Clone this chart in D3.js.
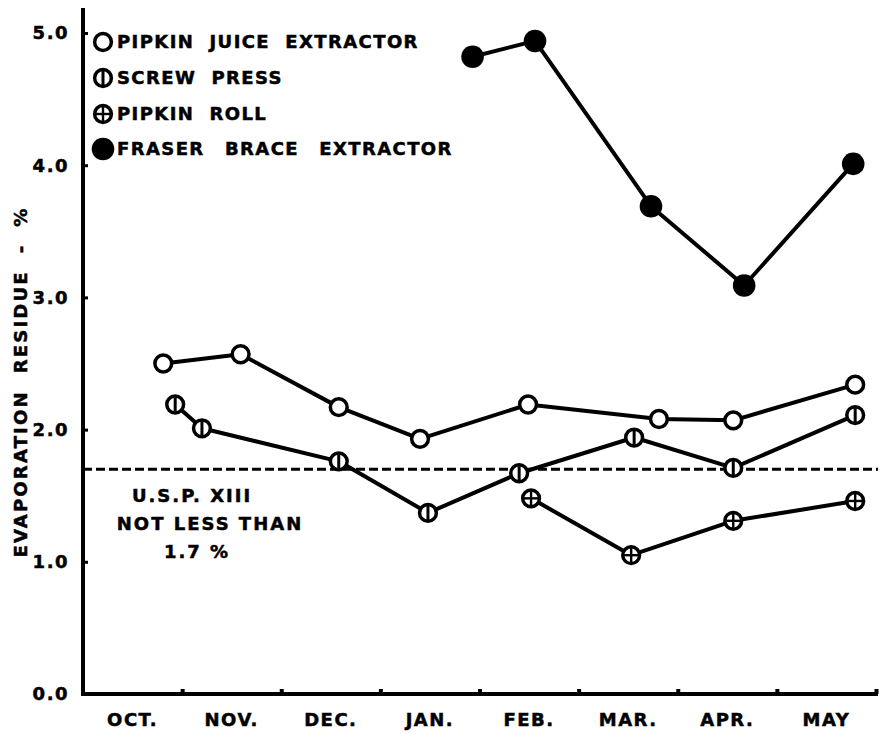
<!DOCTYPE html>
<html>
<head>
<meta charset="utf-8">
<script src="https://cdn.jsdelivr.net/npm/d3@7"></script>
<style>
  html, body { margin: 0; padding: 0; background: #fff; }
  svg { display: block; }
  text { font-family: "DejaVu Sans", sans-serif; font-weight: bold; fill: #000; stroke: #000; stroke-width: 0.5; }
</style>
</head>
<body>
<svg id="chart" width="881" height="734"></svg>
<script>
// ---- data ----
const months = ["OCT.", "NOV.", "DEC.", "JAN.", "FEB.", "MAR.", "APR.", "MAY"];
const yTickValues = [0, 1, 2, 3, 4, 5];
const yTickLabels = ["0.0", "1.0", "2.0", "3.0", "4.0", "5.0"];

// x = months elapsed since 1 October (fractional), y = evaporation residue %
const pipkinJuiceX = [0.81, 1.59, 2.58, 3.40, 4.49, 5.81, 6.56, 7.79];
const pipkinJuiceY = [2.50, 2.57, 2.17, 1.93, 2.19, 2.08, 2.07, 2.34];

const screwPressX = [0.93, 1.20, 2.58, 3.48, 4.40, 5.56, 6.56, 7.79];
const screwPressY = [2.19, 2.01, 1.76, 1.37, 1.67, 1.94, 1.71, 2.11];

const pipkinRollX = [4.52, 5.53, 6.56, 7.79];
const pipkinRollY = [1.48, 1.05, 1.31, 1.46];

const fraserBraceX = [3.93, 4.56, 5.73, 6.67, 7.77];
const fraserBraceY = [4.82, 4.94, 3.69, 3.09, 4.01];

const uspLimit = 1.7;
const uspText = ["U.S.P. XIII", "NOT LESS THAN", "1.7 %"];

const legendNames = ["PIPKIN  JUICE  EXTRACTOR", "SCREW  PRESS", "PIPKIN  ROLL", "FRASER  BRACE  EXTRACTOR"];
const legendKinds = ["open", "screw", "roll", "filled"];

// ---- drawing ----
const svg = d3.select("#chart");
const x = d3.scaleLinear().domain([0, 8]).range([83, 876]);
const y = d3.scaleLinear().domain([0, 5]).range([694, 33]);

const zip = (xs, ys) => xs.map((v, i) => [v, ys[i]]);

// axes
const yAxis = d3.axisRight(y).tickValues(yTickValues.slice(1)).tickSize(5).tickFormat("");
const gy = svg.append("g").attr("transform", `translate(${x(0)},0)`).call(yAxis);
gy.select(".domain").remove();
gy.selectAll(".tick line").attr("stroke", "#000").attr("stroke-width", 3);

const xAxis = d3.axisTop(x).tickValues(d3.range(1, 9)).tickSize(5).tickFormat("");
const gx = svg.append("g").attr("transform", `translate(0,${y(0)})`).call(xAxis);
gx.select(".domain").remove();
gx.selectAll(".tick line").attr("stroke", "#000").attr("stroke-width", 4);

// axis lines
svg.append("line").attr("x1", x(0)).attr("x2", x(0)).attr("y1", 8).attr("y2", y(0) + 2)
  .attr("stroke", "#000").attr("stroke-width", 4);
svg.append("line").attr("x1", x(0) - 2).attr("x2", x(8) + 2).attr("y1", y(0)).attr("y2", y(0))
  .attr("stroke", "#000").attr("stroke-width", 4);

// y tick labels
svg.append("g").selectAll("text").data(yTickValues).join("text")
  .attr("x", x(0) - 14).attr("y", d => y(d)).attr("dy", "0.36em")
  .attr("text-anchor", "end").attr("font-size", 18).attr("letter-spacing", 1.5)
  .text((d, i) => yTickLabels[i]);

// month labels
svg.append("g").selectAll("text").data(months).join("text")
  .attr("x", (d, i) => x(i + 0.5)).attr("y", 726)
  .attr("text-anchor", "middle").attr("font-size", 18).attr("letter-spacing", 1.5)
  .text(d => d);

// y axis title
svg.append("text")
  .attr("transform", "translate(27,382) rotate(-90)")
  .attr("text-anchor", "middle").attr("font-size", 18).attr("letter-spacing", 2.2)
  .style("white-space", "pre")
  .text("EVAPORATION  RESIDUE  -  %");

// USP limit line
svg.append("line").attr("x1", x(0)).attr("x2", x(8) + 2).attr("y1", y(uspLimit)).attr("y2", y(uspLimit))
  .attr("stroke", "#000").attr("stroke-width", 3).attr("stroke-dasharray", "9,4");

svg.append("g").selectAll("text").data(uspText).join("text")
  .attr("x", (d, i) => [192, 210, 197][i]).attr("y", (d, i) => 502 + i * 28)
  .attr("text-anchor", "middle").attr("font-size", 18).attr("letter-spacing", 2)
  .style("white-space", "pre")
  .text(d => d);

// lines
const line = d3.line().x(d => x(d[0])).y(d => y(d[1]));
const series = [
  { pts: zip(pipkinJuiceX, pipkinJuiceY), kind: "open" },
  { pts: zip(screwPressX, screwPressY), kind: "screw" },
  { pts: zip(pipkinRollX, pipkinRollY), kind: "roll" },
  { pts: zip(fraserBraceX, fraserBraceY), kind: "filled" }
];
series.forEach(s => {
  svg.append("path").datum(s.pts).attr("d", line)
    .attr("fill", "none").attr("stroke", "#000").attr("stroke-width", 4)
    .attr("stroke-linejoin", "round");
});

function marker(g, kind) {
  if (kind === "filled") {
    g.append("circle").attr("r", 11.3).attr("fill", "#000");
    return;
  }
  g.append("circle").attr("r", 8.4).attr("fill", "#fff").attr("stroke", "#000").attr("stroke-width", 3.5);
  if (kind === "screw") {
    g.append("line").attr("x1", 0).attr("x2", 0).attr("y1", -7).attr("y2", 7)
      .attr("stroke", "#000").attr("stroke-width", 3);
  } else if (kind === "roll") {
    g.append("line").attr("x1", 0).attr("x2", 0).attr("y1", -7).attr("y2", 7)
      .attr("stroke", "#000").attr("stroke-width", 2.4);
    g.append("line").attr("x1", -7).attr("x2", 7).attr("y1", 0).attr("y2", 0)
      .attr("stroke", "#000").attr("stroke-width", 2.4);
  }
}

series.forEach(s => {
  svg.append("g").selectAll("g").data(s.pts).join("g")
    .attr("transform", d => `translate(${x(d[0])},${y(d[1])})`)
    .each(function () { marker(d3.select(this), s.kind); });
});

// legend
const legendY = [42, 78, 114, 149];
const legendWordSpacing = [0, 0, 0, 2.5];
const lg = svg.append("g");
legendNames.forEach((name, i) => {
  const g = lg.append("g").attr("transform", `translate(103,${legendY[i]})`);
  marker(g, legendKinds[i]);
  g.append("text").attr("x", 14).attr("dy", "0.36em").attr("font-size", 18)
    .attr("letter-spacing", 1.4).attr("word-spacing", legendWordSpacing[i])
    .style("white-space", "pre")
    .text(name);
});
</script>
</body>
</html>
